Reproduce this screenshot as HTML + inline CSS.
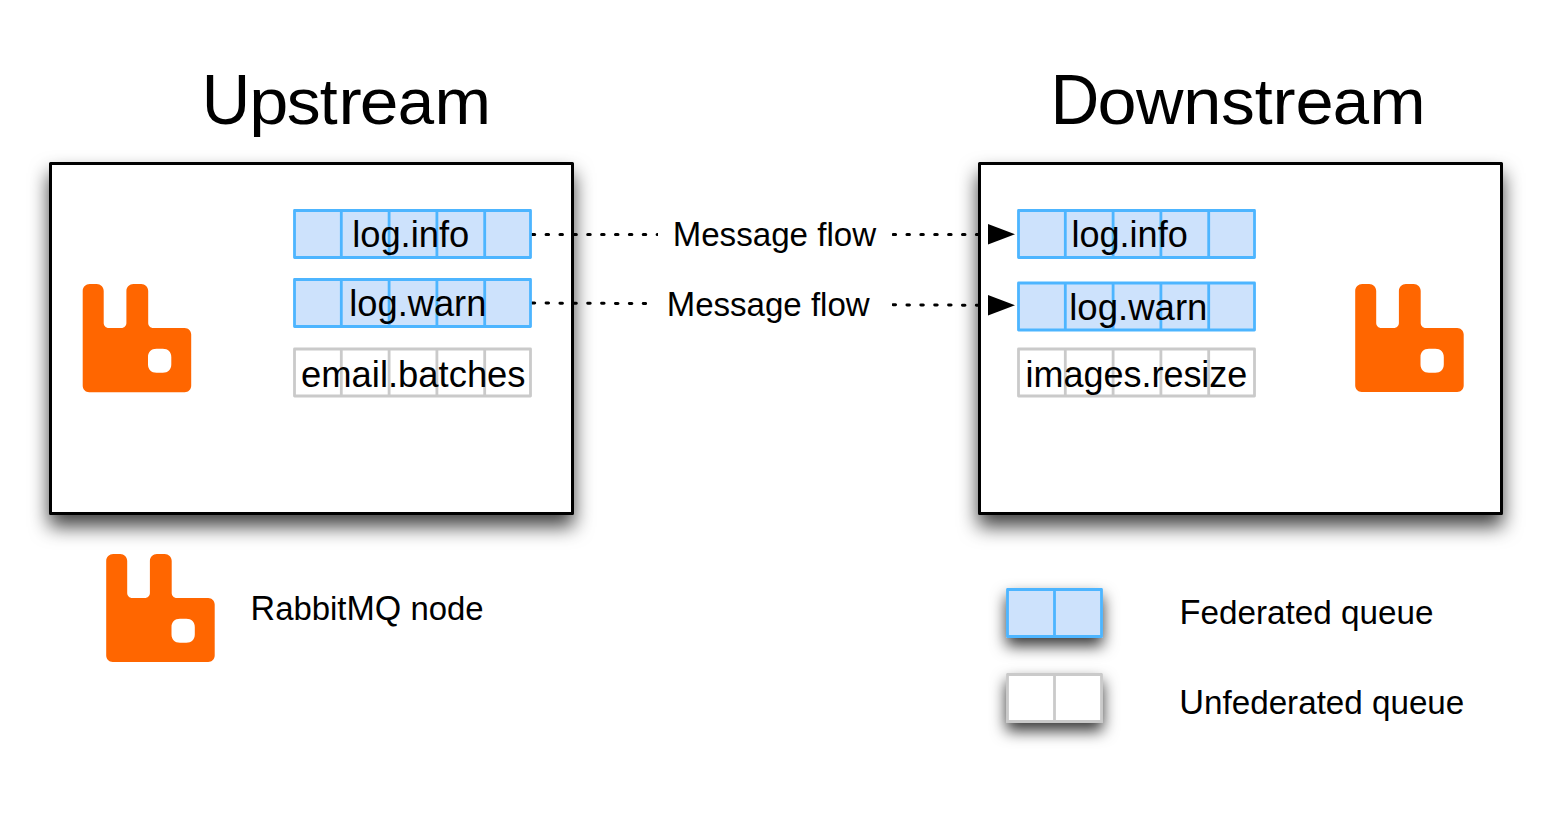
<!DOCTYPE html>
<html><head><meta charset="utf-8">
<style>
html,body{margin:0;padding:0;background:#fff;width:1553px;height:826px;overflow:hidden}
svg{display:block}
text{font-family:"Liberation Sans",sans-serif;fill:#000}
</style></head>
<body>
<svg width="1553" height="826" viewBox="0 0 1553 826">
<defs>
<filter id="sh" x="-20%" y="-20%" width="140%" height="150%">
<feDropShadow dx="0" dy="11.5" stdDeviation="9.5" flood-color="#000" flood-opacity="0.74"/>
</filter>
<filter id="sh2" x="-50%" y="-80%" width="200%" height="300%">
<feDropShadow dx="0" dy="8" stdDeviation="7.5" flood-color="#000" flood-opacity="0.78"/>
</filter>
<path id="logo" fill="#ff6600" fill-rule="evenodd" d="M0,7.4 C0.00,3.55 3.15,0.40 7.00,0.40 H14.0 C17.85,0.40 21.00,3.55 21.00,7.40 V39.4 C21.00,42.15 23.25,44.40 26.00,44.40 H38.7 C41.45,44.40 43.70,42.15 43.70,39.40 V7.4 C43.70,3.55 46.85,0.40 50.70,0.40 H58.5 C62.35,0.40 65.50,3.55 65.50,7.40 V39.4 C65.50,42.15 67.75,44.40 70.50,44.40 H102.0 C105.58,44.40 108.50,47.32 108.50,50.90 V102.1 C108.50,105.67 105.58,108.60 102.00,108.60 H6.5 C2.92,108.60 0.00,105.67 0.00,102.10 Z M73.8,65.2 H80.1 C85.37,65.20 88.60,68.43 88.60,73.70 V80.7 C88.60,85.97 85.37,89.20 80.10,89.20 H73.8 C68.53,89.20 65.30,85.97 65.30,80.70 V73.7 C65.30,68.43 68.53,65.20 73.80,65.20 Z"/>
<g id="fq">
<rect x="1.5" y="1.5" width="236" height="47" fill="#cde2fc" stroke="#4db5ff" stroke-width="2.8" stroke-linejoin="round"/>
<path d="M48.3,1.5V48.5M96.1,1.5V48.5M143.9,1.5V48.5M191.7,1.5V48.5" stroke="#4db5ff" stroke-width="2.8" stroke-linejoin="round"/>
</g>
<g id="uq">
<rect x="1.5" y="1.5" width="236" height="47" fill="#fff" stroke="#cacaca" stroke-width="2.8" stroke-linejoin="round"/>
<path d="M48.3,1.5V48.5M96.1,1.5V48.5M143.9,1.5V48.5M191.7,1.5V48.5" stroke="#cacaca" stroke-width="2.8" stroke-linejoin="round"/>
</g>
</defs>

<!-- titles -->

<!-- boxes -->
<rect x="50.5" y="163.5" width="522" height="350" fill="#fff" stroke="#000" stroke-width="3" stroke-linejoin="round" filter="url(#sh)"/>
<rect x="979.5" y="163.5" width="522" height="350" fill="#fff" stroke="#000" stroke-width="3" stroke-linejoin="round" filter="url(#sh)"/>

<!-- dotted lines -->
<path d="M532,234.5 H988" stroke="#000" stroke-width="3" stroke-linecap="round" stroke-dasharray="2.5 11.38" stroke-dashoffset="-0.2" fill="none"/>
<path d="M532,303 L988,305.3" stroke="#000" stroke-width="3" stroke-linecap="round" stroke-dasharray="2.5 11.38" stroke-dashoffset="-0.2" fill="none"/>
<rect x="658" y="215" width="234" height="40" fill="#fff"/>
<rect x="647" y="284" width="245" height="40" fill="#fff"/>

<!-- arrows -->
<path d="M988,224 L1015,234.3 L988,244.5 Z" fill="#000"/>
<path d="M988,295 L1015,305.3 L988,315.5 Z" fill="#000"/>

<!-- upstream queues -->
<use href="#fq" x="293" y="209"/>
<use href="#fq" x="293" y="278"/>
<use href="#uq" x="293" y="347.5"/>

<!-- downstream queues -->
<use href="#fq" x="1017" y="209"/>
<use href="#fq" x="1017" y="281.5"/>
<use href="#uq" x="1017" y="347.5"/>

<!-- logos -->
<use href="#logo" x="82.7" y="283.6"/>
<use href="#logo" x="1355.2" y="283.5"/>
<use href="#logo" x="106.2" y="553.5"/>

<!-- legend -->
<g filter="url(#sh2)">
<rect x="1007.5" y="589.5" width="94" height="47" fill="#cde2fc" stroke="#4db5ff" stroke-width="2.8" stroke-linejoin="round"/>
<path d="M1054.5,589.5V636.5" stroke="#4db5ff" stroke-width="2.8" stroke-linejoin="round"/>
</g>
<g filter="url(#sh2)">
<rect x="1007.5" y="674.5" width="94" height="47" fill="#fff" stroke="#cacaca" stroke-width="2.8" stroke-linejoin="round"/>
<path d="M1054.5,674.5V721.5" stroke="#cacaca" stroke-width="2.8" stroke-linejoin="round"/>
</g>
<text id="mf1" x="672.67" y="245.90" textLength="203.46" lengthAdjust="spacingAndGlyphs"><tspan font-size="34.5">M</tspan><tspan font-size="33.4">essage flow</tspan></text>
<text id="mf2" x="666.67" y="316.00" textLength="202.99" lengthAdjust="spacingAndGlyphs"><tspan font-size="34.5">M</tspan><tspan font-size="33.4">essage flow</tspan></text>
<text id="up_info" x="352.15" y="247.00" textLength="117.07" lengthAdjust="spacingAndGlyphs"><tspan font-size="36">log.info</tspan></text>
<text id="up_warn" x="349.32" y="316.20" textLength="136.99" lengthAdjust="spacingAndGlyphs"><tspan font-size="36">log.warn</tspan></text>
<text id="up_email" x="301.07" y="386.70" textLength="224.49" lengthAdjust="spacingAndGlyphs"><tspan font-size="36">email.batches</tspan></text>
<text id="dn_info" x="1071.49" y="247.20" textLength="116.26" lengthAdjust="spacingAndGlyphs"><tspan font-size="36">log.info</tspan></text>
<text id="dn_warn" x="1069.24" y="320.30" textLength="138.20" lengthAdjust="spacingAndGlyphs"><tspan font-size="36">log.warn</tspan></text>
<text id="dn_images" x="1025.53" y="386.90" textLength="221.82" lengthAdjust="spacingAndGlyphs"><tspan font-size="36">images.resize</tspan></text>
<text id="rmq" x="250.57" y="619.80" textLength="233.07" lengthAdjust="spacingAndGlyphs"><tspan font-size="34.5">R</tspan><tspan font-size="33.4">abbit</tspan><tspan font-size="34.5">MQ</tspan><tspan font-size="33.4"> node</tspan></text>
<text id="fed" x="1179.55" y="624.00" textLength="253.84" lengthAdjust="spacingAndGlyphs"><tspan font-size="34.5">F</tspan><tspan font-size="33.4">ederated queue</tspan></text>
<text id="unfed" x="1179.34" y="714.00" textLength="284.91" lengthAdjust="spacingAndGlyphs"><tspan font-size="34.5">U</tspan><tspan font-size="33.4">nfederated queue</tspan></text>
<text id="up_U" x="201.83" y="124.00" textLength="48.48" lengthAdjust="spacingAndGlyphs"><tspan font-size="69.7">U</tspan></text>
<text id="up_p" x="249.18" y="124.00" textLength="39.10" lengthAdjust="spacingAndGlyphs"><tspan font-size="65.6">p</tspan></text>
<text id="up_s" x="286.69" y="124.00" textLength="33.89" lengthAdjust="spacingAndGlyphs"><tspan font-size="65.6">s</tspan></text>
<text id="up_t" x="319.78" y="124.00" textLength="17.90" lengthAdjust="spacingAndGlyphs"><tspan font-size="65.6">t</tspan></text>
<text id="up_r" x="338.60" y="124.00" textLength="23.18" lengthAdjust="spacingAndGlyphs"><tspan font-size="65.6">r</tspan></text>
<text id="up_e" x="359.85" y="124.00" textLength="38.69" lengthAdjust="spacingAndGlyphs"><tspan font-size="65.6">e</tspan></text>
<text id="up_a" x="397.63" y="124.00" textLength="36.39" lengthAdjust="spacingAndGlyphs"><tspan font-size="65.6">a</tspan></text>
<text id="up_m" x="434.44" y="124.00" textLength="56.51" lengthAdjust="spacingAndGlyphs"><tspan font-size="65.6">m</tspan></text>
<text id="dn_D" x="1050.53" y="124.00" textLength="48.84" lengthAdjust="spacingAndGlyphs"><tspan font-size="69.5">D</tspan></text>
<text id="dn_o" x="1097.60" y="124.00" textLength="39.05" lengthAdjust="spacingAndGlyphs"><tspan font-size="65.6">o</tspan></text>
<text id="dn_w" x="1136.01" y="124.00" textLength="47.45" lengthAdjust="spacingAndGlyphs"><tspan font-size="65.6">w</tspan></text>
<text id="dn_n" x="1183.24" y="124.00" textLength="38.10" lengthAdjust="spacingAndGlyphs"><tspan font-size="65.6">n</tspan></text>
<text id="dn_s" x="1220.91" y="124.00" textLength="33.81" lengthAdjust="spacingAndGlyphs"><tspan font-size="65.6">s</tspan></text>
<text id="dn_t" x="1254.78" y="124.00" textLength="17.90" lengthAdjust="spacingAndGlyphs"><tspan font-size="65.6">t</tspan></text>
<text id="dn_r" x="1272.56" y="124.00" textLength="23.06" lengthAdjust="spacingAndGlyphs"><tspan font-size="65.6">r</tspan></text>
<text id="dn_e" x="1295.41" y="124.00" textLength="38.17" lengthAdjust="spacingAndGlyphs"><tspan font-size="65.6">e</tspan></text>
<text id="dn_a" x="1332.81" y="124.00" textLength="36.34" lengthAdjust="spacingAndGlyphs"><tspan font-size="65.6">a</tspan></text>
<text id="dn_m" x="1369.55" y="124.00" textLength="56.01" lengthAdjust="spacingAndGlyphs"><tspan font-size="65.6">m</tspan></text>
</svg>
</body></html>
